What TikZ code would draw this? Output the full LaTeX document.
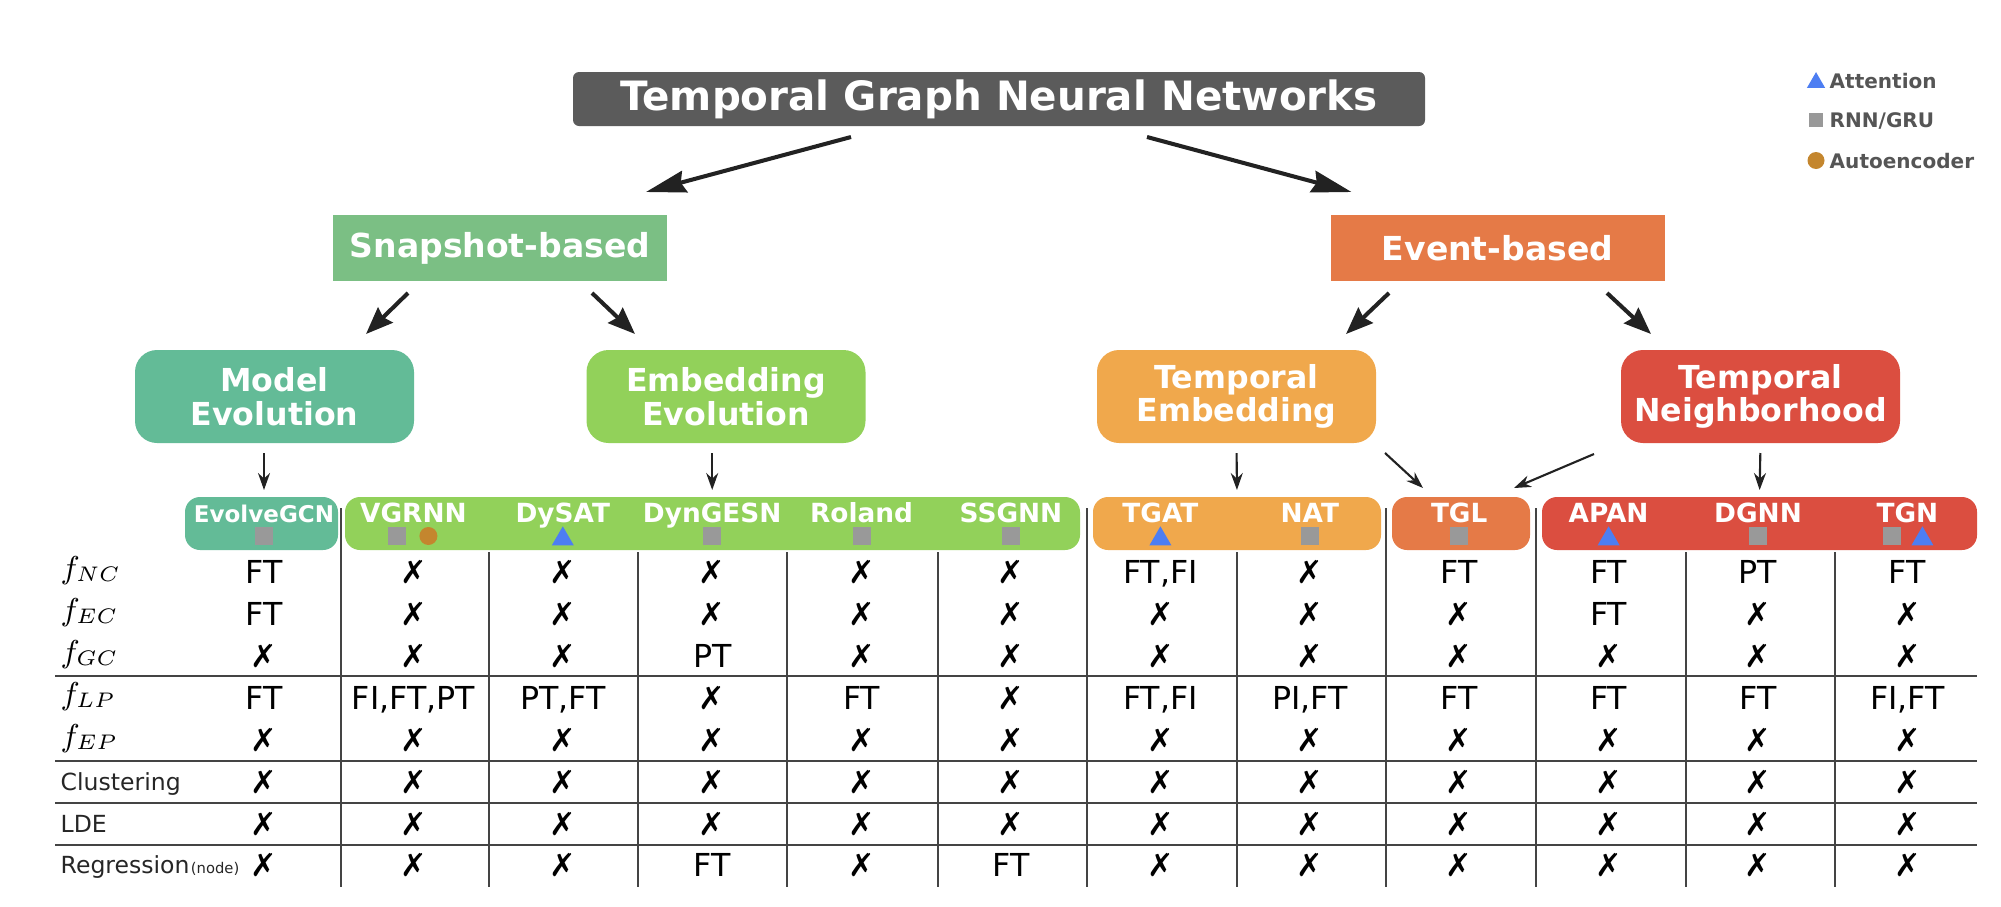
\documentclass[tikz,border=0pt]{standalone}
\usepackage{fontspec}
\setmainfont{DejaVu Sans}
\usetikzlibrary{arrows.meta,shapes.geometric}

\definecolor{rootgray}{HTML}{5B5B5B}
\definecolor{snapgreen}{HTML}{7BBF84}
\definecolor{eventorange}{HTML}{E57A47}
\definecolor{mevogreen}{HTML}{63BB97}
\definecolor{eevolime}{HTML}{92D15A}
\definecolor{tembamber}{HTML}{F0A84C}
\definecolor{tnbred}{HTML}{DB4E40}
\definecolor{rnngray}{HTML}{999999}
\definecolor{aebrown}{HTML}{C4862E}
\definecolor{attblue}{HTML}{4D7EF2}
\definecolor{legtext}{HTML}{555555}
\definecolor{rulegray}{HTML}{444444}
\definecolor{arrowblk}{HTML}{222222}

\begin{document}
\begin{tikzpicture}[
  font=\fontsize{9}{9}\selectfont,
  box/.style   ={inner sep=0pt, outer sep=0pt, text=white, align=center},
  root/.style  ={box, fill=rootgray, rounded corners=0.6mm, minimum width=85.2mm, minimum height=5.4mm,
                 font=\fontsize{11.5}{13}\selectfont\bfseries},
  family/.style={box, minimum width=33.4mm, minimum height=6.6mm, font=\fontsize{9.4}{11}\selectfont\bfseries},
  cat/.style   ={box, rounded corners=2.2mm, minimum width=27.9mm, minimum height=9.3mm,
                 font=\fontsize{9}{9.6}\selectfont\bfseries},
  bar/.style   ={box, rounded corners=1.5mm, minimum height=5.3mm},
  mname/.style ={text=white, inner sep=0pt, anchor=base, font=\fontsize{7.5}{8}\selectfont\bfseries},
  rnn/.style   ={fill=rnngray, minimum size=1.8mm, inner sep=0pt},
  ae/.style    ={circle, fill=aebrown, minimum size=1.8mm, inner sep=0pt},
  att/.style   ={regular polygon, regular polygon sides=3, fill=attblue, minimum size=2.54mm, inner sep=0pt},
  cell/.style  ={anchor=base, inner sep=0pt},
  rlab/.style  ={anchor=base west, inner sep=0pt},
  tlab/.style  ={rlab, font=\fontsize{6.7}{7}\selectfont, text=black!85},
  leg/.style   ={anchor=base west, inner sep=0pt, text=legtext, font=\fontsize{5.7}{6}\selectfont\bfseries},
  big/.style   ={-{Stealth[length=4mm, width=2.2mm, inset=0.4mm]}, line width=1.15pt, draw=arrowblk},
  mid/.style   ={-{Stealth[length=2.7mm, width=2.1mm, inset=0.3mm]}, line width=1.15pt, draw=arrowblk},
  small/.style ={-{Stealth[length=1.7mm, width=1.2mm]}, line width=0.6pt, draw=arrowblk},
  rule/.style  ={line width=0.6pt, draw=rulegray}
]
\useasboundingbox (0,0) rectangle (20.01,-9.06);

% =================== TAXONOMY ===================
\node[root] (tgnn) at (9.99,-0.99) {Temporal Graph Neural Networks};

\node[family, fill=snapgreen]   (snap)  at ( 5.00,-2.48) {Snapshot-based};
\node[family, fill=eventorange] (event) at (14.975,-2.48) {Event-based};

\node[cat, fill=mevogreen] (mevo) at ( 2.745,-3.965) {Model\\Evolution};
\node[cat, fill=eevolime]  (eevo) at ( 7.26, -3.965) {Embedding\\Evolution};
\node[cat, fill=tembamber] (temb) at (12.365,-3.965) {Temporal\\Embedding};
\node[cat, fill=tnbred]    (tnb)  at (17.605,-3.965) {Temporal\\Neighborhood};

% =================== LEGEND ===================
\node[att, minimum size=2.1mm] (legatt) at (18.16,-0.826) {};
\node[leg] (legatt-t) at (18.29,-0.88) {Attention};
\node[rnn, minimum size=1.4mm] (legrnn) at (18.16,-1.20) {};
\node[leg] (legrnn-t) at (18.29,-1.27) {RNN/GRU};
\node[ae, minimum size=1.7mm] (legae) at (18.16,-1.605) {};
\node[leg] (legae-t) at (18.29,-1.68) {Autoencoder};

% =================== MODEL HEADERS ===================
\node[bar, fill=mevogreen,   minimum width=15.3mm] (evbar)  at ( 2.615,-5.235) {};
\node[bar, fill=eevolime,    minimum width=73.5mm] (eebar)  at ( 7.125,-5.235) {};
\node[bar, fill=tembamber,   minimum width=28.8mm] (tebar)  at (12.37, -5.235) {};
\node[bar, fill=eventorange, minimum width=13.8mm] (tglbar) at (14.61, -5.235) {};
\node[bar, fill=tnbred,      minimum width=43.5mm] (tnbar)  at (17.595,-5.235) {};

\node[mname, font=\fontsize{6.55}{7}\selectfont\bfseries] (m1) at (2.64,-5.22) {EvolveGCN};
\foreach \n [count=\i from 2] in {VGRNN,DySAT,DynGESN,Roland,SSGNN,TGAT,NAT,TGL,APAN,DGNN,TGN}
  \node[mname] (m\i) at ({2.64+1.494*(\i-1)},-5.22) {\n};

% mechanism marks
\node[rnn]              (m1-rnn)  at (m1 |- 0,-5.36) {};
\node[rnn, xshift=-1.6mm] (m2-rnn)  at (m2 |- 0,-5.36) {};
\node[ae,  xshift= 1.5mm] (m2-ae)   at (m2 |- 0,-5.36) {};
\node[att]              (m3-att)  at (m3 |- 0,-5.39) {};
\node[rnn]              (m4-rnn)  at (m4 |- 0,-5.36) {};
\node[rnn]              (m5-rnn)  at (m5 |- 0,-5.36) {};
\node[rnn]              (m6-rnn)  at (m6 |- 0,-5.36) {};
\node[att]              (m7-att)  at (m7 |- 0,-5.39) {};
\node[rnn]              (m8-rnn)  at (m8 |- 0,-5.36) {};
\node[rnn]              (m9-rnn)  at (m9 |- 0,-5.36) {};
\node[att]              (m10-att) at (m10 |- 0,-5.39) {};
\node[rnn]              (m11-rnn) at (m11 |- 0,-5.36) {};
\node[rnn, xshift=-1.5mm] (m12-rnn) at (m12 |- 0,-5.36) {};
\node[att, xshift= 1.5mm] (m12-att) at (m12 |- 0,-5.39) {};

% =================== TABLE ===================
\node[rlab] (lnc) at (0.60,-5.78) {$f_{NC}$};
\node[rlab] (lec) at (0.60,-6.20) {$f_{EC}$};
\node[rlab] (lgc) at (0.60,-6.62) {$f_{GC}$};
\node[rlab] (llp) at (0.60,-7.04) {$f_{LP}$};
\node[rlab] (lep) at (0.60,-7.46) {$f_{EP}$};
\node[tlab] (lcl) at (0.60,-7.905) {Clustering};
\node[tlab] (lld) at (0.60,-8.325) {LDE};
\node[tlab] (lrg) at (0.60,-8.735) {Regression\kern0.4pt{\fontsize{4.2}{5}\selectfont(node)}};

\foreach \v [count=\i] in {FT,✗,✗,✗,✗,✗,{FT,FI},✗,FT,FT,PT,FT}
  \node[cell] (nc\i) at (m\i |- 0,-5.835) {\v};
\foreach \v [count=\i] in {FT,✗,✗,✗,✗,✗,✗,✗,✗,FT,✗,✗}
  \node[cell] (ec\i) at (m\i |- 0,-6.255) {\v};
\foreach \v [count=\i] in {✗,✗,✗,PT,✗,✗,✗,✗,✗,✗,✗,✗}
  \node[cell] (gc\i) at (m\i |- 0,-6.675) {\v};
\foreach \v [count=\i] in {FT,{FI,FT,PT},{PT,FT},✗,FT,✗,{FT,FI},{PI,FT},FT,FT,FT,{FI,FT}}
  \node[cell] (lp\i) at (m\i |- 0,-7.095) {\v};
\foreach \v [count=\i] in {✗,✗,✗,✗,✗,✗,✗,✗,✗,✗,✗,✗}
  \node[cell] (ep\i) at (m\i |- 0,-7.515) {\v};
\foreach \v [count=\i] in {✗,✗,✗,✗,✗,✗,✗,✗,✗,✗,✗,✗}
  \node[cell] (cl\i) at (m\i |- 0,-7.935) {\v};
\foreach \v [count=\i] in {✗,✗,✗,✗,✗,✗,✗,✗,✗,✗,✗,✗}
  \node[cell] (ld\i) at (m\i |- 0,-8.355) {\v};
\foreach \v [count=\i] in {✗,✗,✗,FT,✗,FT,✗,✗,✗,✗,✗,✗}
  \node[cell] (rg\i) at (m\i |- 0,-8.765) {\v};

% grid rules
\foreach \y in {6.76,7.61,8.03,8.45}
  \draw[rule] (0.55,-\y) -- (19.77,-\y);
\foreach \x in {3.41,10.87,13.86,15.36}
  \draw[rule] (\x,-5.08) -- (\x,-8.87);
\foreach \x in {4.89,6.38,7.87,9.38,12.37,16.86,18.35}
  \draw[rule] (\x,-5.52) -- (\x,-8.87);

% =================== ARROWS ===================
\draw[big] ([shift={(-1.48,-0.11)}]tgnn.south) -- ([shift={( 1.46,0.23)}]snap.north);
\draw[big] ([shift={( 1.48,-0.11)}]tgnn.south) -- ([shift={(-1.46,0.23)}]event.north);

\draw[mid] ([shift={(-0.92,-0.12)}]snap.south)   -- ([shift={( 0.915,0.16)}]mevo.north);
\draw[mid] ([shift={( 0.92,-0.12)}]snap.south)   -- ([shift={(-0.91,0.16)}]eevo.north);
\draw[mid] ([shift={(-1.085,-0.12)}]event.south) -- ([shift={( 1.095,0.16)}]temb.north);
\draw[mid] ([shift={( 1.095,-0.12)}]event.south) -- ([shift={(-1.095,0.16)}]tnb.north);

\draw[small, shorten <=1mm, shorten >=0.7mm] (mevo.south -| m1) -- (evbar.north -| m1);
\draw[small, shorten <=1mm, shorten >=0.7mm] (eevo.south -| m4) -- (eebar.north -| m4);
\draw[small, shorten <=1mm, shorten >=0.7mm] (temb.south) -- (tebar.north);
\draw[small] ([shift={( 0.09,-0.10)}]temb.south east) -- ([shift={( 0.31,0.09)}]tglbar.north west);
\draw[small] ([shift={(-0.27,-0.11)}]tnb.south west)  -- ([shift={(-0.16,0.09)}]tglbar.north east);
\draw[small, shorten <=1mm, shorten >=0.7mm] (tnb.south) -- (tnbar.north);

\end{tikzpicture}
\end{document}
